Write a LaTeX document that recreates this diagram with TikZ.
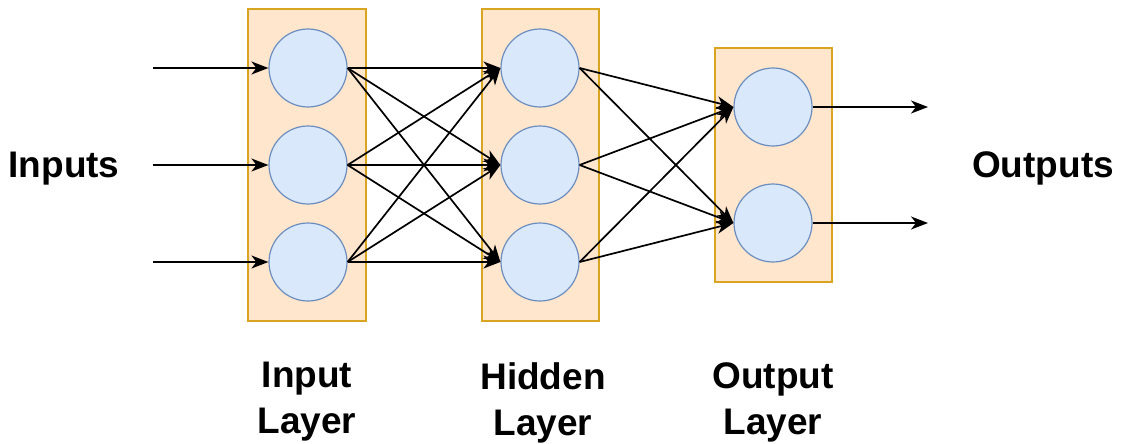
\documentclass[tikz,border=0pt]{standalone}
\usepackage{fontspec}
\setmainfont{Liberation Sans}
\usetikzlibrary{arrows.meta}
\definecolor{layerfill}{HTML}{FFE6CC}
\definecolor{layerdraw}{HTML}{D9A520}
\definecolor{neuronfill}{HTML}{DAE8FC}
\definecolor{neurondraw}{HTML}{6C8EBF}
\tikzset{
  layerbox/.style={draw=layerdraw, fill=layerfill, line width=1.5pt},
  neuron/.style={circle, draw=neurondraw, fill=neuronfill, line width=1.2pt, minimum size=78pt, inner sep=0pt},
  conn/.style={line width=1.7pt, -{Stealth[length=17pt,width=13pt,inset=5pt]}},
  lbl/.style={font=\bfseries\fontsize{37}{46}\selectfont, align=center, inner sep=0pt}
}
\begin{document}
\begin{tikzpicture}[x=1pt,y=-1pt]
\useasboundingbox (0,0) rectangle (1122,444);
% layer boxes
\path[layerbox] (248,9) rectangle (366,321);
\path[layerbox] (482,9) rectangle (599,321);
\path[layerbox] (715,48) rectangle (832,282);
% neurons
\node[neuron] (i1) at (308,68) {};
\node[neuron] (i2) at (308,165) {};
\node[neuron] (i3) at (308,262) {};
\node[neuron] (h1) at (540,68) {};
\node[neuron] (h2) at (540,165) {};
\node[neuron] (h3) at (540,262) {};
\node[neuron] (o1) at (773,107) {};
\node[neuron] (o2) at (773,223) {};
% free ends
\coordinate (s1) at (153,68);
\coordinate (s2) at (153,165);
\coordinate (s3) at (153,262);
\coordinate (e1) at (928,107);
\coordinate (e2) at (928,223);
% connections
\foreach \k in {1,2,3} \draw[conn] (s\k) -- (i\k.west);
\foreach \a in {1,2,3} \foreach \b in {1,2,3} \draw[conn] (i\a.east) -- (h\b.west);
\foreach \a in {1,2,3} \foreach \b in {1,2} \draw[conn] (h\a.east) -- (o\b.west);
\draw[conn] (o1.east) -- (e1);
\draw[conn] (o2.east) -- (e2);
% labels
\node[lbl, anchor=base] (inputs) at (64,177) {Inputs};
\node[lbl, anchor=base] (outputs) at (1043,177) {Outputs};
\node[lbl, anchor=north] (il) at (307,362) {Input\\Layer};
\node[lbl, anchor=north] (hl) at (543,362) {Hidden\\Layer};
\node[lbl, anchor=north] (ol) at (773,362) {Output\\Layer};
\end{tikzpicture}
\end{document}
